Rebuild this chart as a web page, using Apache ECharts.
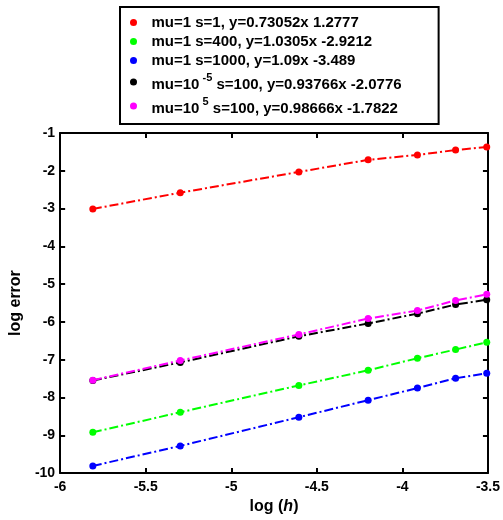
<!DOCTYPE html>
<html>
<head>
<meta charset="utf-8">
<script src="https://cdn.jsdelivr.net/npm/echarts@6/dist/echarts.min.js"></script>
<style>
  html, body { margin: 0; padding: 0; background: #fff; }
  #chart { width: 503px; height: 520px; }
</style>
</head>
<body>
<div id="chart"></div>
<script>
// log(h) values, h = 0.003, 0.005, 0.01, 0.015, 0.02, 0.025, 0.03
var logH = [-5.809, -5.298, -4.605, -4.200, -3.912, -3.689, -3.507];

var seriesNames = [
  'mu=1 s=1, y=0.73052x 1.2777',
  'mu=1 s=400, y=1.0305x -2.9212',
  'mu=1 s=1000, y=1.09x -3.489',
  'mu=10^-5 s=100, y=0.93766x -2.0776',
  'mu=10^5 s=100, y=0.98666x -1.7822'
];
var seriesColors = ['#ff0000', '#00ff00', '#0000ff', '#000000', '#ff00ff'];

var redErr     = [-3.01, -2.58, -2.03, -1.71, -1.58, -1.45, -1.37];
var greenErr   = [-8.92, -8.39, -7.68, -7.28, -6.96, -6.73, -6.54];
var blueErr    = [-9.81, -9.28, -8.52, -8.07, -7.75, -7.49, -7.36];
var blackErr   = [-7.55, -7.07, -6.38, -6.04, -5.78, -5.54, -5.41];
var magentaErr = [-7.54, -7.02, -6.33, -5.91, -5.70, -5.43, -5.27];

var xTicks = { min: -6, max: -3.5, interval: 0.5 };
var yTicks = { min: -10, max: -1, interval: 1 };

var allErr = [redErr, greenErr, blueErr, blackErr, magentaErr];
var FONT = "'Liberation Sans', Arial, Helvetica, sans-serif";

function pairs(ys) {
  return logH.map(function (x, i) { return [x, ys[i]]; });
}

var series = allErr.map(function (ys, k) {
  return {
    name: seriesNames[k],
    type: 'line',
    xAxisIndex: 0,
    yAxisIndex: 0,
    data: pairs(ys),
    symbol: 'circle',
    symbolSize: 7,
    showSymbol: true,
    color: seriesColors[k],
    itemStyle: { color: seriesColors[k] },
    lineStyle: { color: seriesColors[k], width: 2, type: [9, 3, 2, 3] },
    animation: false,
    z: 2 + k
  };
});

function legendFormatter(name) {
  var m = name.match(/^mu=10\^(-?\d+)(.*)$/);
  if (m) {
    return '{m|mu=10}{s| ' + m[1] + '}{m|' + m[2] + '}';
  }
  if (name.indexOf('s=1000') >= 0) return '{b|' + name + '}';
  return '{n|' + name + '}';
}

var labelStyle = { color: '#000', fontFamily: FONT, fontWeight: 'bold', fontSize: 14 };

var option = {
  backgroundColor: '#fff',
  animation: false,
  grid: { left: 55, right: 8, top: 133, bottom: 46, containLabel: false },
  legend: {
    data: seriesNames,
    orient: 'vertical',
    left: 120,
    top: 7,
    padding: [8, 37, 8, 10],
    itemGap: 4,
    itemWidth: 26,
    itemHeight: 7,
    icon: 'circle',
    borderColor: '#000',
    borderWidth: 2,
    backgroundColor: '#fff',
    selectedMode: false,
    formatter: legendFormatter,
    textStyle: {
      color: '#000', fontFamily: FONT, fontWeight: 'bold', fontSize: 15,
      rich: {
        n: { fontFamily: FONT, fontWeight: 'bold', fontSize: 15, lineHeight: 16, color: '#000' },
        b: { fontFamily: FONT, fontWeight: 'bold', fontSize: 15, lineHeight: 18, color: '#000' },
        m: { fontFamily: FONT, fontWeight: 'bold', fontSize: 15, lineHeight: 20, verticalAlign: 'bottom', color: '#000' },
        s: { fontFamily: FONT, fontWeight: 'bold', fontSize: 11, lineHeight: 13, verticalAlign: 'top', color: '#000' }
      }
    }
  },
  xAxis: [
    {
      type: 'value',
      position: 'bottom',
      min: xTicks.min, max: xTicks.max, interval: xTicks.interval,
      name: 'log ({i|h})',
      nameLocation: 'middle',
      nameGap: 24,
      nameTextStyle: {
        color: '#000', fontFamily: FONT, fontWeight: 'bold', fontSize: 16,
        rich: { i: { fontFamily: FONT, fontWeight: 'bold', fontStyle: 'italic', fontSize: 16, color: '#000' } }
      },
      axisLine: { show: true, onZero: false, lineStyle: { color: '#000', width: 2 } },
      axisTick: { show: true, inside: true, length: 5, lineStyle: { color: '#000', width: 2 } },
      axisLabel: Object.assign({ margin: 7 }, labelStyle),
      splitLine: { show: false }
    },
    {
      type: 'value',
      position: 'top',
      min: xTicks.min, max: xTicks.max, interval: xTicks.interval,
      axisLine: { show: true, onZero: false, lineStyle: { color: '#000', width: 2 } },
      axisTick: { show: true, inside: true, length: 5, lineStyle: { color: '#000', width: 2 } },
      axisLabel: { show: false },
      splitLine: { show: false }
    }
  ],
  yAxis: [
    {
      type: 'value',
      position: 'left',
      min: yTicks.min, max: yTicks.max, interval: yTicks.interval,
      name: 'log error',
      nameLocation: 'middle',
      nameGap: 33,
      nameTextStyle: { color: '#000', fontFamily: FONT, fontWeight: 'bold', fontSize: 16 },
      axisLine: { show: true, onZero: false, lineStyle: { color: '#000', width: 2 } },
      axisTick: { show: true, inside: true, length: 5, lineStyle: { color: '#000', width: 2 } },
      axisLabel: Object.assign({ margin: 5 }, labelStyle),
      splitLine: { show: false }
    },
    {
      type: 'value',
      position: 'right',
      min: yTicks.min, max: yTicks.max, interval: yTicks.interval,
      axisLine: { show: true, onZero: false, lineStyle: { color: '#000', width: 2 } },
      axisTick: { show: true, inside: true, length: 5, lineStyle: { color: '#000', width: 2 } },
      axisLabel: { show: false },
      splitLine: { show: false }
    }
  ],
  series: series
};

var chart = echarts.init(document.getElementById('chart'), null, { renderer: 'canvas' });
chart.setOption(option);
</script>
</body>
</html>
